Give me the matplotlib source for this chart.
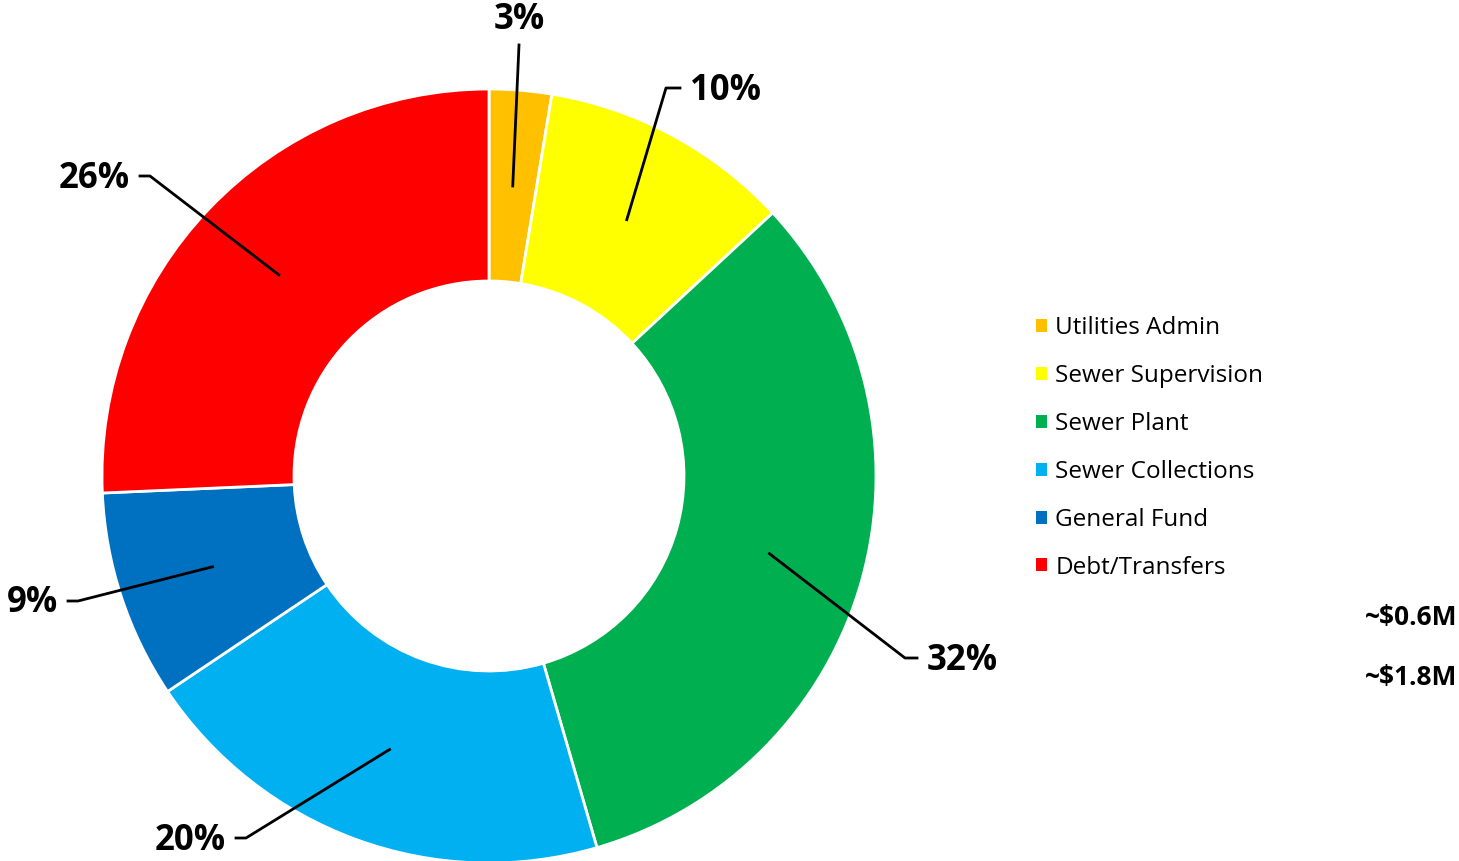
import numpy as np
import matplotlib.pyplot as plt

# slice data (share of budget, %)
categories = ["Utilities Admin", "Sewer Supervision", "Sewer Plant",
              "Sewer Collections", "General Fund", "Debt/Transfers"]
shares = [2.6, 10.5, 32.4, 20.1, 8.7, 25.7]
pct_labels = ["3%", "10%", "32%", "20%", "9%", "26%"]
colors = ["#FFC000", "#FFFF00", "#00B050", "#00B0F0", "#0070C0", "#FF0000"]
side_notes = ["~$0.6M", "~$1.8M"]

W, H = 1459, 861
fig = plt.figure(figsize=(W / 100, H / 100), dpi=100)
ax = fig.add_axes([0, 0, 1, 1])

cx, cy = 489, H - 476
r_out, r_in = 387, 195

wedges, _ = ax.pie(shares, center=(cx, cy), radius=r_out, startangle=90,
                   counterclock=False, colors=colors,
                   wedgeprops=dict(width=r_out - r_in, edgecolor="white", linewidth=2))
ax.set_xlim(0, W)
ax.set_ylim(0, H)
ax.set_aspect("equal")
ax.axis("off")

# label layout in image pixels: elbow point, line end, text anchor, alignment
layout = [
    ((519, 45), None, (519, 20), "center"),
    ((666, 88), (680, 88), (690, 91), "left"),
    ((905, 658), (917, 658), (927, 661), "left"),
    ((246, 838), (236, 838), (226, 841), "right"),
    ((78, 601), (68, 601), (58, 603), "right"),
    ((150, 176), (140, 176), (130, 179), "right"),
]

r_mid = (r_out + r_in) / 2
for w, lab, (elbow, end, txt, ha) in zip(wedges, pct_labels, layout):
    ang = np.deg2rad((w.theta1 + w.theta2) / 2)
    ax_pt = (cx + r_mid * np.cos(ang), cy + r_mid * np.sin(ang))
    xs = [ax_pt[0], elbow[0]]
    ys = [ax_pt[1], H - elbow[1]]
    if end is not None:
        xs.append(end[0])
        ys.append(H - end[1])
    ax.plot(xs, ys, color="black", lw=2, zorder=5)
    ax.text(txt[0], H - txt[1], lab, ha=ha, va="center", fontsize=25,
            fontweight="bold", family="Open Sans")

leg = ax.legend(wedges, categories, loc="center left",
                bbox_to_anchor=(1036 / W, (H - 448) / H), frameon=False,
                prop={"family": "Open Sans", "size": 17.5},
                handlelength=0.45, handleheight=0.45, handletextpad=0.35,
                labelspacing=0.98, borderpad=0, borderaxespad=0)
for h in leg.legend_handles:
    h.set_edgecolor("none")

for note, y in zip(side_notes, [617, 678]):
    ax.text(1365, H - y, note, ha="left", va="center", fontsize=19,
            fontweight="bold", family="Open Sans")

fig.savefig("out.png", dpi=100)
